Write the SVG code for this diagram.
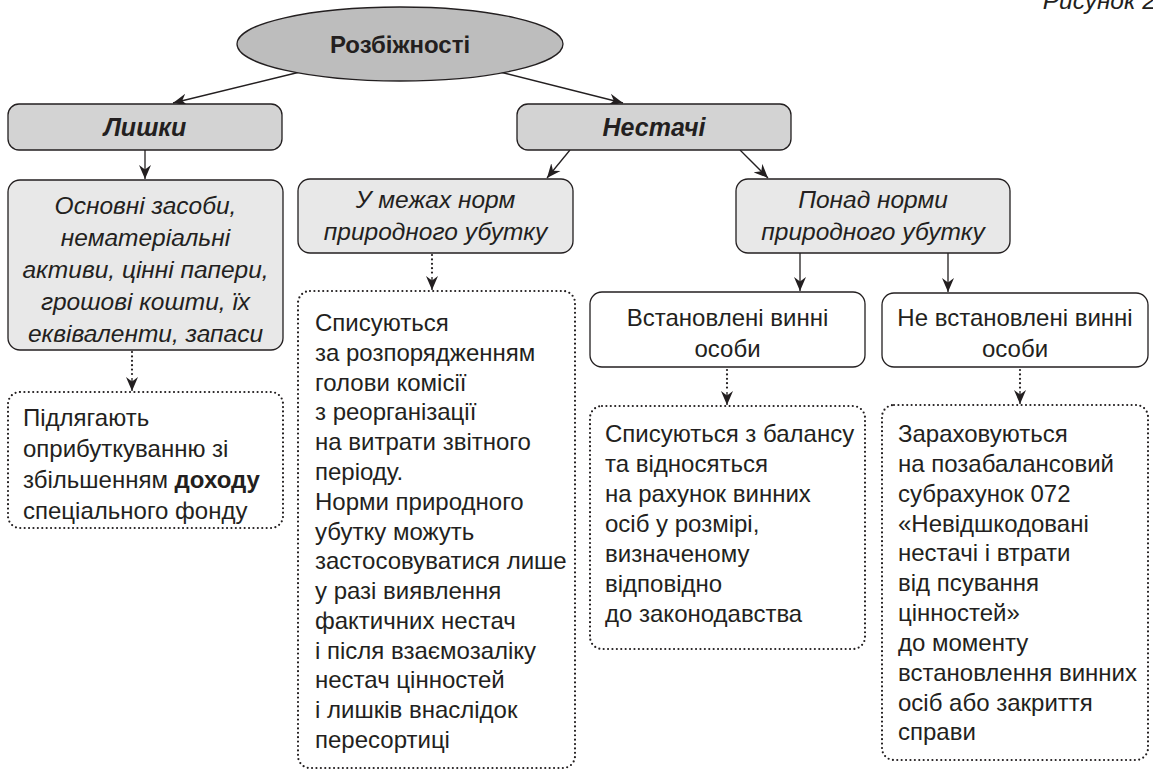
<svg xmlns="http://www.w3.org/2000/svg" width="1153" height="774" viewBox="0 0 1153 774">
<style>
.t{font-family:"Liberation Sans",Arial,sans-serif;font-size:24px;fill:#231f20}
.it{font-style:italic;font-size:24.5px}
.bi{font-style:italic;font-weight:bold;font-size:25px}
.b{font-weight:bold}
.c{text-anchor:middle}
.solid{fill:none;stroke:#231f20;stroke-width:1.3}
.dot{fill:none;stroke:#231f20;stroke-width:2.2;stroke-dasharray:0 4.4;stroke-linecap:round}
.g1{fill:#bdbdbd;stroke:#231f20;stroke-width:1.3}
.g2{fill:#d3d3d3;stroke:#231f20;stroke-width:1.3}
.g3{fill:#e8e8e8;stroke:#231f20;stroke-width:1.3}
.w{fill:#fff;stroke:#231f20;stroke-width:1.3}
</style>
<defs>
<marker id="ah" markerUnits="userSpaceOnUse" markerWidth="15" markerHeight="13" refX="14" refY="6.5" orient="auto">
<path d="M0,0.5 L14,6.5 L0,12.5 L4.5,6.5 z" fill="#231f20"/>
</marker>
</defs>
<text class="t it" x="1156" y="9" text-anchor="end">Рисунок 2</text>
<g id="connectors">
<path class="solid" d="M300,72 L173,103" marker-end="url(#ah)"/>
<path class="solid" d="M500,72 L623,103" marker-end="url(#ah)"/>
<path class="solid" d="M145,150 L145,179" marker-end="url(#ah)"/>
<path class="solid" d="M570,150 L547,178" marker-end="url(#ah)"/>
<path class="solid" d="M740,150 L768,178" marker-end="url(#ah)"/>
<path class="solid" d="M800,253 L800,291" marker-end="url(#ah)"/>
<path class="solid" d="M948,253 L948,292" marker-end="url(#ah)"/>
<path class="dot" d="M132,352 L132,378"/>
<path class="solid" d="M132,378 L132,391" stroke-width="0" marker-end="url(#ah)"/>
<path class="dot" d="M432,255 L432,277"/>
<path class="solid" d="M432,277 L432,290" stroke-width="0" marker-end="url(#ah)"/>
<path class="dot" d="M727,370 L727,392"/>
<path class="solid" d="M727,392 L727,405" stroke-width="0" marker-end="url(#ah)"/>
<path class="dot" d="M1020,370 L1020,391"/>
<path class="solid" d="M1020,391 L1020,404" stroke-width="0" marker-end="url(#ah)"/>
</g>
<g id="root">
<ellipse class="g1" cx="400" cy="44" rx="163" ry="37"/>
<text class="t b c" x="400" y="53" font-size="26">Розбіжності</text>
</g>
<g id="lyshky">
<rect class="g2" x="8" y="104" width="274" height="46" rx="11"/>
<text class="t bi c" x="145" y="136">Лишки</text>
</g>
<g id="nestachi">
<rect class="g2" x="517" y="104" width="274" height="46" rx="11"/>
<text class="t bi c" x="654" y="136">Нестачі</text>
</g>
<g id="osnovni">
<rect class="g3" x="8" y="180" width="275" height="170" rx="12"/>
<text class="t it c" x="145.5" y="214">Основні засоби,</text>
<text class="t it c" x="145.5" y="246">нематеріальні</text>
<text class="t it c" x="145.5" y="278">активи, цінні папери,</text>
<text class="t it c" x="145.5" y="310">грошові кошти, їх</text>
<text class="t it c" x="145.5" y="342">еквіваленти, запаси</text>
</g>
<g id="umezhakh">
<rect class="g3" x="298" y="179" width="275" height="74" rx="12"/>
<text class="t it c" x="435.5" y="208">У межах норм</text>
<text class="t it c" x="435.5" y="240">природного убутку</text>
</g>
<g id="ponad">
<rect class="g3" x="736" y="179" width="274" height="74" rx="12"/>
<text class="t it c" x="873" y="208">Понад норми</text>
<text class="t it c" x="873" y="240">природного убутку</text>
</g>
<g id="vstanovleni">
<rect class="w" x="590" y="292" width="275" height="75" rx="12"/>
<text class="t c" x="727.5" y="326">Встановлені винні</text>
<text class="t c" x="727.5" y="357">особи</text>
</g>
<g id="nevstanovleni">
<rect class="w" x="882" y="293" width="266" height="74" rx="12"/>
<text class="t c" x="1015" y="326">Не встановлені винні</text>
<text class="t c" x="1015" y="357">особи</text>
</g>
<g id="pidlyagayut">
<rect class="dot" x="8" y="392" width="275" height="136" rx="12"/>
<text class="t" x="23" y="426">Підлягають</text>
<text class="t" x="23" y="457">оприбуткуванню зі</text>
<text class="t" x="23" y="488">збільшенням <tspan class="b">доходу</tspan></text>
<text class="t" x="23" y="519">спеціального фонду</text>
</g>
<g id="spysuyutsya1">
<rect class="dot" x="298" y="291" width="277" height="477" rx="12"/>
<text class="t" x="315" y="331">Списуються</text>
<text class="t" x="315" y="361">за розпорядженням</text>
<text class="t" x="315" y="391">голови комісії</text>
<text class="t" x="315" y="420">з реорганізації</text>
<text class="t" x="315" y="450">на витрати звітного</text>
<text class="t" x="315" y="480">періоду.</text>
<text class="t" x="315" y="510">Норми природного</text>
<text class="t" x="315" y="540">убутку можуть</text>
<text class="t" x="315" y="569">застосовуватися лише</text>
<text class="t" x="315" y="599">у разі виявлення</text>
<text class="t" x="315" y="629">фактичних нестач</text>
<text class="t" x="315" y="659">і після взаємозаліку</text>
<text class="t" x="315" y="688">нестач цінностей</text>
<text class="t" x="315" y="718">і лишків внаслідок</text>
<text class="t" x="315" y="748">пересортиці</text>
</g>
<g id="spysuyutsya2">
<rect class="dot" x="590" y="406" width="275" height="243" rx="12"/>
<text class="t" x="605" y="442">Списуються з балансу</text>
<text class="t" x="605" y="472">та відносяться</text>
<text class="t" x="605" y="502">на рахунок винних</text>
<text class="t" x="605" y="532">осіб у розмірі,</text>
<text class="t" x="605" y="562">визначеному</text>
<text class="t" x="605" y="592">відповідно</text>
<text class="t" x="605" y="622">до законодавства</text>
</g>
<g id="zarakhovuyutsya">
<rect class="dot" x="882" y="405" width="266" height="355" rx="12"/>
<text class="t" x="898" y="442">Зараховуються</text>
<text class="t" x="898" y="472">на позабалансовий</text>
<text class="t" x="898" y="502">субрахунок 072</text>
<text class="t" x="898" y="532">«Невідшкодовані</text>
<text class="t" x="898" y="561">нестачі і втрати</text>
<text class="t" x="898" y="591">від псування</text>
<text class="t" x="898" y="621">цінностей»</text>
<text class="t" x="898" y="651">до моменту</text>
<text class="t" x="898" y="681">встановлення винних</text>
<text class="t" x="898" y="711">осіб або закриття</text>
<text class="t" x="898" y="740">справи</text>
</g>
</svg>
